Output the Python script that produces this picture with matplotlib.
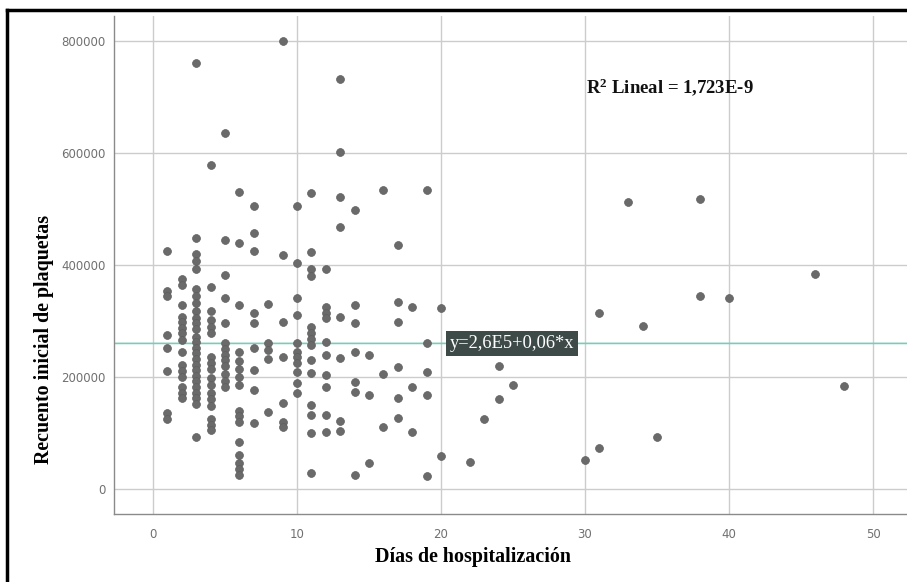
import matplotlib.pyplot as plt
from matplotlib.lines import Line2D
import matplotlib
matplotlib.rcParams['font.family'] = 'Liberation Serif'
matplotlib.rcParams['mathtext.fontset'] = 'custom'
matplotlib.rcParams['mathtext.rm'] = 'Liberation Serif'
matplotlib.rcParams['mathtext.bf'] = 'Liberation Serif:bold'

# Días de hospitalización y, para cada día, los recuentos iniciales de plaquetas
dias = [1, 2, 3, 4, 5, 6, 7, 8, 9, 10, 11, 12, 13, 14, 15, 16, 17, 18, 19, 20,
        22, 23, 24, 25, 30, 31, 33, 34, 35, 38, 40, 46, 48]
plaquetas_por_dia = [
    [425000, 353000, 345000, 275000, 252000, 210000, 135000, 125000],
    [375000, 365000, 328000, 308000, 298000, 288000, 278000, 266000, 245000, 222000, 210000, 200000, 182000, 172000, 162000],
    [760000, 448000, 420000, 408000, 393000, 357000, 345000, 332000, 318000, 305000, 296000, 285000, 272000, 262000,
     252000, 242000, 232000, 222000, 212000, 202000, 192000, 182000, 172000, 162000, 152000, 93000],
    [578000, 360000, 318000, 302000, 290000, 278000, 235000, 225000, 215000, 198000, 185000, 172000, 160000, 148000,
     125000, 115000, 105000],
    [636000, 445000, 382000, 341000, 296000, 260000, 250000, 240000, 230000, 220000, 205000, 193000, 182000],
    [530000, 440000, 328000, 245000, 228000, 215000, 200000, 185000, 140000, 130000, 120000, 84000, 60000, 47000,
     35000, 25000],
    [505000, 458000, 425000, 315000, 296000, 252000, 212000, 177000, 118000],
    [330000, 260000, 248000, 232000, 137000],
    [800000, 418000, 298000, 236000, 153000, 120000, 110000],
    [505000, 403000, 341000, 311000, 260000, 245000, 236000, 225000, 209000, 190000, 171000],
    [528000, 423000, 392000, 380000, 290000, 278000, 268000, 257000, 230000, 207000, 150000, 132000, 100000, 28000],
    [393000, 325000, 315000, 305000, 262000, 240000, 203000, 182000, 132000, 102000],
    [733000, 602000, 521000, 468000, 307000, 234000, 122000, 104000],
    [498000, 329000, 296000, 245000, 191000, 173000, 25000],
    [240000, 168000, 47000],
    [534000, 205000, 110000],
    [436000, 334000, 298000, 218000, 162000, 127000],
    [325000, 182000, 102000],
    [534000, 261000, 209000, 168000, 23000],
    [323000, 59000],
    [48000],
    [125000],
    [220000, 161000],
    [185000],
    [52000],
    [314000, 73000],
    [513000],
    [291000],
    [93000],
    [518000, 345000],
    [341000],
    [384000],
    [184000],
]

# Recta de ajuste lineal: y = 2,6E5 + 0,06*x
intercepto = 260000
pendiente = 0.06
x_recta = [-5, 60]

x_ticks = [0, 10, 20, 30, 40, 50]
y_ticks = [0, 200000, 400000, 600000, 800000]

xs, ys = [], []
for d, valores in zip(dias, plaquetas_por_dia):
    xs.extend([d] * len(valores))
    ys.extend(valores)
y_recta = [intercepto + pendiente * v for v in x_recta]

fig = plt.figure(figsize=(9.07, 5.82), dpi=100)
ax = fig.add_axes([114 / 907, 1 - 514 / 582, 1 - 114 / 907, (514 - 16) / 582])

ax.set_axisbelow(True)
ax.grid(True, color='#cccccc', linewidth=1.0)
ax.plot(x_recta, y_recta, color='#78cdb9', linewidth=1.2, zorder=2)
ax.scatter(xs, ys, s=32, color='#6a6a6a', edgecolors='#5e5e5e', linewidths=0.5, zorder=3)

ax.set_xlim(-2.71, 52.36)
ax.set_ylim(-44600, 844600)
ax.set_xticks(x_ticks)
ax.set_yticks(y_ticks)
ax.set_yticklabels([str(v) for v in y_ticks])
ax.tick_params(axis='both', length=0, labelsize=8.5, labelcolor='#707070', pad=6)
ax.tick_params(axis='x', pad=10)
for lbl in ax.get_xticklabels() + ax.get_yticklabels():
    lbl.set_family('DejaVu Sans')

for side in ['top', 'right']:
    ax.spines[side].set_visible(False)
for side in ['left', 'bottom']:
    ax.spines[side].set_color('#8a8a8a')
    ax.spines[side].set_linewidth(1.0)

ax.set_xlabel('Días de hospitalización', fontsize=14.4, fontweight='bold')
ax.set_ylabel('Recuento inicial de plaquetas', fontsize=14.4, fontweight='bold')
ax.xaxis.set_label_coords(0.453, -0.066)
ax.yaxis.set_label_coords(-0.076, 0.35)

ax.text(20.6, intercepto, 'y=2,6E5+0,06*x', fontsize=13.3, color='white', va='center', ha='left',
        bbox=dict(boxstyle='square,pad=0.2', facecolor='#3d4a47', edgecolor='none'), zorder=4)
ax.text(30.1, 718000, r'$\mathbf{R^2}$ Lineal = 1,723E-9', fontsize=13.5, fontweight='bold',
        va='center', ha='left', color='#111111')

# marco negro (solo visible arriba y a la izquierda)
fig.add_artist(Line2D([7 / 907, 7 / 907], [0, 1 - 10 / 582], transform=fig.transFigure, color='black', linewidth=2.5))
fig.add_artist(Line2D([7 / 907, 1], [1 - 10 / 582, 1 - 10 / 582], transform=fig.transFigure, color='black', linewidth=2.5))

plt.savefig('out.png', dpi=100)
